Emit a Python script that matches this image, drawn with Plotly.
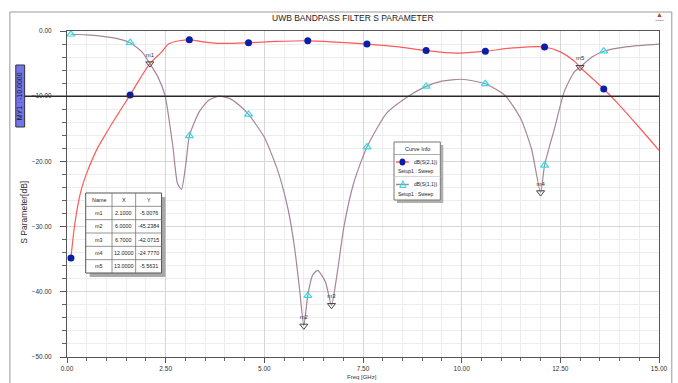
import plotly.graph_objects as go

# ---------------- data ----------------
s21_freq = [0.1, 0.2, 0.35, 0.5, 0.77, 1.0, 1.18, 1.4, 1.6, 1.85, 2.1, 2.4, 2.57, 2.84, 3.1, 3.5,
            3.9, 4.6, 5.3, 6.1, 6.8, 7.6, 8.35, 9.1, 9.85, 10.6, 11.3, 12.1, 12.5, 12.85, 13.0,
            13.6, 14.0, 14.5, 15.0]
s21_db = [-34.8, -29.5, -24.6, -21.8, -18.0, -15.6, -13.8, -11.7, -9.8, -7.3, -5.0, -3.2, -2.0, -1.5,
          -1.35, -1.7, -1.9, -1.8, -1.6, -1.5, -1.7, -2.0, -2.4, -3.0, -3.4, -3.1, -2.6, -2.45,
          -3.2, -4.6, -5.56, -8.9, -11.4, -14.8, -18.3]

s11_freq = [0.1, 0.5, 1.0, 1.3, 1.6, 1.9, 2.1, 2.3, 2.48, 2.68, 2.8, 2.9, 3.02, 3.1, 3.35, 3.6,
            3.85, 4.1, 4.35, 4.6, 5.0, 5.35, 5.6, 5.77, 5.9, 6.0, 6.1, 6.22, 6.35, 6.55, 6.7,
            6.85, 7.02, 7.27, 7.6, 8.1, 8.68, 9.1, 9.5, 10.0, 10.6, 11.1, 11.5, 11.77, 12.0,
            12.1, 12.35, 12.6, 12.85, 13.0, 13.3, 13.6, 14.2, 15.0]
s11_db = [-0.5, -0.6, -0.9, -1.2, -1.8, -3.2, -5.0, -7.0, -9.8, -17.6, -23.4, -24.3, -20.0, -16.1,
          -12.4, -10.6, -10.0, -10.3, -11.3, -12.8, -16.3, -21.6, -27.3, -33.4, -40.0, -45.2,
          -40.6, -37.5, -36.7, -38.5, -42.1, -37.0, -29.9, -23.2, -17.8, -12.6, -9.9, -8.5,
          -7.7, -7.4, -8.1, -9.9, -13.5, -18.1, -24.8, -20.6, -15.0, -9.3, -6.3, -5.56, -4.0,
          -3.1, -2.4, -2.0]

symbol_freqs = [0.1, 1.6, 3.1, 4.6, 6.1, 7.6, 9.1, 10.6, 12.1, 13.6]

marker_names = ["m1", "m2", "m3", "m4", "m5"]
marker_x = [2.1, 6.0, 6.7, 12.0, 13.0]
marker_y = [-5.0076, -45.2384, -42.0715, -24.7770, -5.5631]

x_ticks = [0, 2.5, 5, 7.5, 10, 12.5, 15]
y_ticks = [0, -10, -20, -30, -40, -50]
y_marker_line = -10.0

# ---------------- styling ----------------
FONT = "Liberation Sans Narrow, Arial Narrow, Liberation Sans, Arial, sans-serif"
RED = "#ff5a5a"
MAUVE = "#a6849a"
BLUE = "#0a1fa8"
CYAN = "#35dbe6"
TXT = "#333"

W, H = 678, 383
ML, MR, MT, MB = 67, 10, 31, 26
PW, PH = W - ML - MR, H - MT - MB


def px(x):
    return (x - ML) / PW


def py(y):
    return (H - MB - y) / PH


def note(x, y, text, size, xanchor="center", color=TXT, angle=0):
    return dict(xref="paper", yref="paper", x=px(x), y=py(y), text=text, showarrow=False,
                xanchor=xanchor, yanchor="middle", textangle=angle,
                font=dict(family=FONT, size=size, color=color))


fig = go.Figure()

fig.add_trace(go.Scatter(x=s21_freq, y=s21_db, mode="lines",
                         line=dict(color=RED, width=1.2, shape="spline", smoothing=0.8),
                         name="dB(S(2,1))", showlegend=False, hoverinfo="x+y"))
fig.add_trace(go.Scatter(x=s11_freq, y=s11_db, mode="lines",
                         line=dict(color=MAUVE, width=1.2, shape="spline", smoothing=0.6),
                         name="dB(S(1,1))", showlegend=False, hoverinfo="x+y"))

# symbols on the curves
s21_sym = [(f, v) for f, v in zip(s21_freq, s21_db) if f in symbol_freqs]
s11_sym = [(f, v) for f, v in zip(s11_freq, s11_db) if f in symbol_freqs]
fig.add_trace(go.Scatter(x=[p[0] for p in s21_sym], y=[p[1] for p in s21_sym], mode="markers",
                         marker=dict(color=BLUE, size=7, symbol="circle"),
                         showlegend=False, hoverinfo="skip"))
fig.add_trace(go.Scatter(x=[p[0] for p in s11_sym], y=[p[1] for p in s11_sym], mode="markers",
                         marker=dict(color=CYAN, size=7, symbol="triangle-up-open",
                                     line=dict(width=1.2, color=CYAN)),
                         showlegend=False, hoverinfo="skip"))

# m-markers
fig.add_trace(go.Scatter(x=marker_x, y=marker_y, mode="markers+text", text=marker_names,
                         textposition="top center",
                         textfont=dict(family=FONT, size=6, color="#333"),
                         marker=dict(symbol="triangle-down-open", size=7, color="#444",
                                     line=dict(width=1, color="#444")),
                         showlegend=False, hoverinfo="skip"))

shapes = []
annotations = []

# outer frame
shapes.append(dict(type="rect", xref="paper", yref="paper", x0=px(9), x1=px(681), y0=py(12), y1=py(387),
                   line=dict(color="#9a9a9a", width=1), layer="below"))

# marker line at -10
shapes.append(dict(type="line", xref="paper", yref="y", x0=px(23), x1=1, y0=y_marker_line, y1=y_marker_line,
                   line=dict(color="#2a2a2a", width=1.4)))
shapes.append(dict(type="rect", xref="paper", yref="paper", x0=px(15), x1=px(24), y0=py(65), y1=py(127),
                   fillcolor="#7474ea", line=dict(color="#333", width=1)))
annotations.append(note(19.5, 96, "MY1 : -10.0000", 7, color="#111", angle=-90))

# title
annotations.append(note(357, 18, "UWB BANDPASS FILTER S PARAMETER", 8.5, color="#222"))
# logo
annotations.append(note(668, 14, "▲", 7, color="#c0392b"))
annotations.append(note(668, 21, "ANSOFT", 2.5, color="#444"))

# axis titles
annotations.append(note(23, 212, "S Parameter[dB]", 8.5, angle=-90))
annotations.append(note(366, 377, "Freq [GHz]", 6))

# ---- marker table ----
tx0, tx1, ty0, ty1 = 86, 163, 193, 273
shapes.append(dict(type="rect", xref="paper", yref="paper", x0=px(tx0 + 4), x1=px(tx1 + 4),
                   y0=py(ty0 + 4), y1=py(ty1 + 4), fillcolor="#a8a8a8", line=dict(width=0)))
shapes.append(dict(type="rect", xref="paper", yref="paper", x0=px(tx0), x1=px(tx1), y0=py(ty0), y1=py(ty1),
                   fillcolor="white", line=dict(color="#555", width=1)))
col_edges = [tx0, 112.7, 136.7, tx1]
row_h = (ty1 - ty0) / 6
for cx in col_edges[1:-1]:
    shapes.append(dict(type="line", xref="paper", yref="paper", x0=px(cx), x1=px(cx), y0=py(ty0), y1=py(ty1),
                       line=dict(color="#777", width=0.8)))
for r in range(1, 6):
    yy = ty0 + r * row_h
    shapes.append(dict(type="line", xref="paper", yref="paper", x0=px(tx0), x1=px(tx1), y0=py(yy), y1=py(yy),
                       line=dict(color="#777", width=0.8)))
table_rows = [["Name", "X", "Y"]] + [[n, f"{x:.4f}", f"{y:.4f}"] for n, x, y in zip(marker_names, marker_x, marker_y)]
for r, row in enumerate(table_rows):
    yc = ty0 + (r + 0.5) * row_h
    for c, txt in enumerate(row):
        xc = (col_edges[c] + col_edges[c + 1]) / 2
        annotations.append(note(xc, yc, txt, 5.4, color="#222"))

# ---- curve info box ----
lx0, lx1, ly0, ly1 = 399, 446, 142, 200
shapes.append(dict(type="rect", xref="paper", yref="paper", x0=px(lx0 + 3), x1=px(lx1 + 3),
                   y0=py(ly0 + 3), y1=py(ly1 + 3), fillcolor="#b0b0b0", line=dict(width=0)))
shapes.append(dict(type="rect", xref="paper", yref="paper", x0=px(lx0), x1=px(lx1), y0=py(ly0), y1=py(ly1),
                   fillcolor="white", line=dict(color="#777", width=1)))
shapes.append(dict(type="line", xref="paper", yref="paper", x0=px(lx0), x1=px(lx1), y0=py(154.5), y1=py(154.5),
                   line=dict(color="#999", width=0.8)))
shapes.append(dict(type="line", xref="paper", yref="paper", x0=px(lx0), x1=px(lx1), y0=py(176.5), y1=py(176.5),
                   line=dict(color="#ccc", width=0.8)))
annotations.append(note(422.5, 148.5, "Curve Info", 5.5, color="#222"))
# entry 1
shapes.append(dict(type="line", xref="paper", yref="paper", x0=px(401), x1=px(414), y0=py(162), y1=py(162),
                   line=dict(color=RED, width=1.5)))
shapes.append(dict(type="circle", xref="paper", yref="paper", x0=px(404.5), x1=px(410.5), y0=py(158.5),
                   y1=py(165.5), fillcolor=BLUE, line=dict(color=BLUE, width=0)))
annotations.append(note(445, 162, "dB(S(2,1))", 5, xanchor="right", color="#222"))
annotations.append(note(401, 171, "Setup1 : Sweep", 5, xanchor="left", color="#222"))
# entry 2
shapes.append(dict(type="line", xref="paper", yref="paper", x0=px(401), x1=px(414), y0=py(184.5), y1=py(184.5),
                   line=dict(color=MAUVE, width=1.5)))
shapes.append(dict(type="path", xref="paper", yref="paper",
                   path=f"M {px(405)} {py(187.5)} L {px(411)} {py(187.5)} L {px(408)} {py(181)} Z",
                   line=dict(color=CYAN, width=1.1)))
annotations.append(note(445, 184.5, "dB(S(1,1))", 5, xanchor="right", color="#222"))
annotations.append(note(401, 194, "Setup1 : Sweep", 5, xanchor="left", color="#222"))

fig.update_layout(
    width=W, height=H,
    margin=dict(l=ML, r=MR, t=MT, b=MB, pad=0),
    paper_bgcolor="white", plot_bgcolor="white",
    font=dict(family=FONT, size=7, color=TXT),
    shapes=shapes, annotations=annotations,
    showlegend=False,
    xaxis=dict(range=[0, 15], tickvals=x_ticks, tickformat=".2f", showgrid=True, gridcolor="#d6d6d6",
               gridwidth=1, zeroline=False, showline=True, linecolor="#555", linewidth=1, mirror=True,
               ticks="outside", ticklen=5, tickcolor="#555", tickfont=dict(family=FONT, size=6.5, color=TXT),
               minor=dict(dtick=0.5, showgrid=True, gridcolor="#ededed", ticks="outside", ticklen=3,
                          tickcolor="#666")),
    yaxis=dict(range=[-50, 0], tickvals=y_ticks, tickformat=".2f", showgrid=True, gridcolor="#d6d6d6",
               gridwidth=1, zeroline=False, showline=True, linecolor="#555", linewidth=1, mirror=True,
               ticks="outside", ticklen=6, tickcolor="#555", ticklabelstandoff=7,
               tickfont=dict(family=FONT, size=6.5, color=TXT),
               minor=dict(dtick=2, showgrid=True, gridcolor="#ededed", ticks="outside", ticklen=4,
                          tickcolor="#666")),
)

fig.write_html("out.html", config={"displayModeBar": False},
               post_script="document.body.style.margin='0';document.body.style.overflow='hidden';")
